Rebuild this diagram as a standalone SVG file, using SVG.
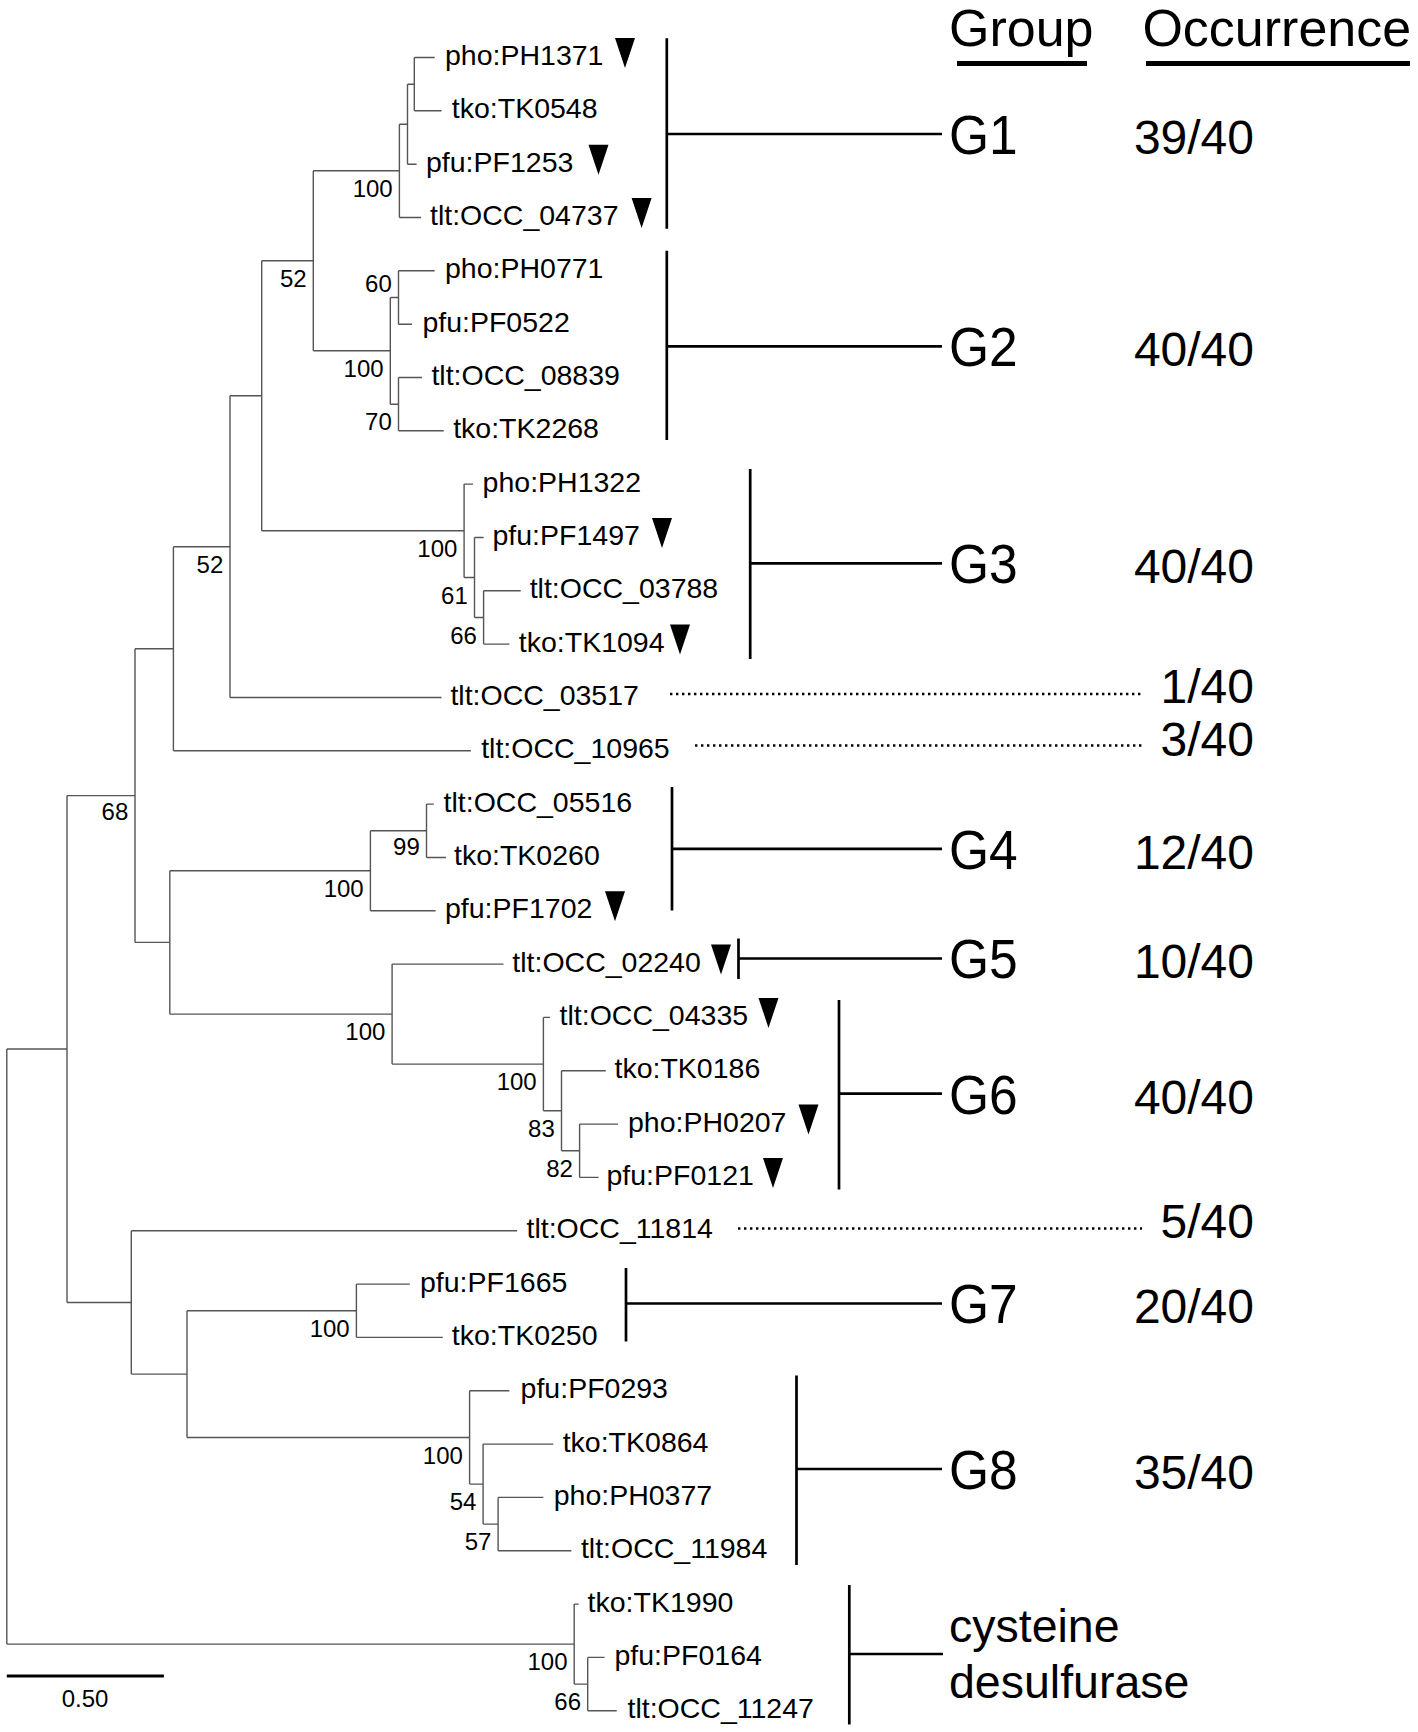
<svg xmlns="http://www.w3.org/2000/svg" xmlns:xlink="http://www.w3.org/1999/xlink" width="1418" height="1732" viewBox="0 0 1418 1732">
<style>
text{font-family:"Liberation Sans",Arial,sans-serif;fill:#000}
.lf{font-size:28.5px}
.bs{font-size:24px;text-anchor:end}
.gl{font-size:56px}
.oc{font-size:48px;text-anchor:end}
.hd{font-size:52px}
.cd{font-size:46.5px}
.sc{font-size:24px;text-anchor:middle}
.br{stroke:#555;stroke-width:1.4;fill:none}
.bk{stroke:#000;stroke-width:2.7;fill:none}
.ul{stroke:#000;stroke-width:5;fill:none}
.dot{stroke:#000;stroke-width:2.6;stroke-dasharray:2.4 3.6;fill:none}
</style>
<defs>
<path id="tri" d="M0,0 H20 L10,30 Z" fill="#000"/>
</defs>
<rect width="1418" height="1732" fill="#fff"/>

<g id="connectors">
<path class="br" d="M6.8,1049 V1644.1 M6.8,1049 H67 M6.8,1644.1 H574.2"/>
<path class="br" d="M67,795.6 V1302.5 M67,795.6 H135 M67,1302.5 H131.3"/>
<path class="br" d="M135,648.8 V942.4 M135,648.8 H173.4 M135,942.4 H169.8"/>
<path class="br" d="M173.4,546.7 V750.8 M173.4,546.7 H230 M173.4,750.8 H470.9"/>
<path class="br" d="M230,395.8 V697.5 M230,395.8 H261.7 M230,697.5 H441.5"/>
<path class="br" d="M261.7,260.8 V530.8 M261.7,260.8 H313.3 M261.7,530.8 H464.1"/>
<path class="br" d="M313.3,170.8 V350.8 M313.3,170.8 H399.4 M313.3,350.8 H390.3"/>
<path class="br" d="M399.4,124.2 V217.5 M399.4,124.2 H407.5 M399.4,217.5 H421"/>
<path class="br" d="M407.5,84.2 V164.2 M407.5,84.2 H414.3 M407.5,164.2 H416.6"/>
<path class="br" d="M414.3,57.5 V110.8 M414.3,57.5 H434.7 M414.3,110.8 H441.5"/>
<path class="br" d="M390.3,297.5 V404.2 M390.3,297.5 H398.5 M390.3,404.2 H398.5"/>
<path class="br" d="M398.5,270.8 V324.2 M398.5,270.8 H434.7 M398.5,324.2 H412"/>
<path class="br" d="M398.5,377.5 V430.8 M398.5,377.5 H422 M398.5,430.8 H443.7"/>
<path class="br" d="M464.1,484.1 V577.5 M464.1,484.1 H473 M464.1,577.5 H474.5"/>
<path class="br" d="M474.5,537.5 V617.5 M474.5,537.5 H483.6 M474.5,617.5 H483.6"/>
<path class="br" d="M483.6,590.8 V644.1 M483.6,590.8 H520.7 M483.6,644.1 H509.4"/>
<path class="br" d="M169.8,870.8 V1014.1 M169.8,870.8 H370.4 M169.8,1014.1 H392.1"/>
<path class="br" d="M370.4,830.8 V910.8 M370.4,830.8 H426.5 M370.4,910.8 H435.6"/>
<path class="br" d="M426.5,804.1 V857.5 M426.5,804.1 H433.8 M426.5,857.5 H446"/>
<path class="br" d="M392.1,964.1 V1064.1 M392.1,964.1 H503.5 M392.1,1064.1 H543.4"/>
<path class="br" d="M543.4,1017.4 V1110.8 M543.4,1017.4 H550 M543.4,1110.8 H561.5"/>
<path class="br" d="M561.5,1070.8 V1150.8 M561.5,1070.8 H605.8 M561.5,1150.8 H579.6"/>
<path class="br" d="M579.6,1124.1 V1177.4 M579.6,1124.1 H618 M579.6,1177.4 H598.6"/>
<path class="br" d="M131.3,1230.8 V1374.1 M131.3,1230.8 H517.1 M131.3,1374.1 H187"/>
<path class="br" d="M187,1310.8 V1437.5 M187,1310.8 H356.4 M187,1437.5 H469.6"/>
<path class="br" d="M356.4,1284.1 V1337.4 M356.4,1284.1 H409.8 M356.4,1337.4 H442.8"/>
<path class="br" d="M469.6,1390.8 V1484.1 M469.6,1390.8 H509.4 M469.6,1484.1 H483.1"/>
<path class="br" d="M483.1,1444.1 V1524.1 M483.1,1444.1 H553.3 M483.1,1524.1 H498.1"/>
<path class="br" d="M498.1,1497.4 V1550.8 M498.1,1497.4 H543.4 M498.1,1550.8 H571.4"/>
<path class="br" d="M574.2,1604.1 V1684.1 M574.2,1604.1 H578.7 M574.2,1684.1 H587.7"/>
<path class="br" d="M587.7,1657.4 V1710.8 M587.7,1657.4 H604.5 M587.7,1710.8 H616.7"/>
<path class="dot" d="M670,694 H1142"/>
<path class="dot" d="M695,745.5 H1142"/>
<path class="dot" d="M738,1228.5 H1142"/>
</g>

<g id="bootstrap">
<text class="bs" x="392.7" y="196.8">100</text>
<text class="bs" x="306.6" y="286.8">52</text>
<text class="bs" x="391.8" y="291.7">60</text>
<text class="bs" x="383.6" y="376.8">100</text>
<text class="bs" x="391.8" y="430.2">70</text>
<text class="bs" x="457.4" y="556.8">100</text>
<text class="bs" x="467.8" y="603.5">61</text>
<text class="bs" x="476.9" y="643.5">66</text>
<text class="bs" x="223.3" y="572.7">52</text>
<text class="bs" x="128.3" y="820">68</text>
<text class="bs" x="363.7" y="896.8">100</text>
<text class="bs" x="419.8" y="855">99</text>
<text class="bs" x="385.4" y="1040.1">100</text>
<text class="bs" x="536.7" y="1090.1">100</text>
<text class="bs" x="554.8" y="1136.8">83</text>
<text class="bs" x="572.9" y="1176.8">82</text>
<text class="bs" x="349.7" y="1336.8">100</text>
<text class="bs" x="462.9" y="1463.5">100</text>
<text class="bs" x="476.4" y="1510.1">54</text>
<text class="bs" x="491.4" y="1550.1">57</text>
<text class="bs" x="567.5" y="1670.1">100</text>
<text class="bs" x="581" y="1710.1">66</text>
</g>

<g id="leaves">
<g id="leaf-PH1371"><text class="lf" x="445" y="65">pho:PH1371</text><use xlink:href="#tri" x="615" y="38"/></g>
<g id="leaf-TK0548"><text class="lf" x="451.8" y="118.3">tko:TK0548</text></g>
<g id="leaf-PF1253"><text class="lf" x="426" y="171.7">pfu:PF1253</text><use xlink:href="#tri" x="588.5" y="144.7"/></g>
<g id="leaf-OCC_04737"><text class="lf" x="430" y="225">tlt:OCC_04737</text><use xlink:href="#tri" x="631.6" y="198"/></g>
<g id="leaf-PH0771"><text class="lf" x="445" y="278.3">pho:PH0771</text></g>
<g id="leaf-PF0522"><text class="lf" x="422.4" y="331.7">pfu:PF0522</text></g>
<g id="leaf-OCC_08839"><text class="lf" x="431.4" y="385">tlt:OCC_08839</text></g>
<g id="leaf-TK2268"><text class="lf" x="453.2" y="438.3">tko:TK2268</text></g>
<g id="leaf-PH1322"><text class="lf" x="482.6" y="491.6">pho:PH1322</text></g>
<g id="leaf-PF1497"><text class="lf" x="492.5" y="545">pfu:PF1497</text><use xlink:href="#tri" x="652" y="518"/></g>
<g id="leaf-OCC_03788"><text class="lf" x="529.7" y="598.3">tlt:OCC_03788</text></g>
<g id="leaf-TK1094"><text class="lf" x="518.8" y="651.6">tko:TK1094</text><use xlink:href="#tri" x="670" y="624.6"/></g>
<g id="leaf-OCC_03517"><text class="lf" x="450.4" y="705">tlt:OCC_03517</text></g>
<g id="leaf-OCC_10965"><text class="lf" x="481.2" y="758.3">tlt:OCC_10965</text></g>
<g id="leaf-OCC_05516"><text class="lf" x="443.6" y="811.6">tlt:OCC_05516</text></g>
<g id="leaf-TK0260"><text class="lf" x="454" y="865">tko:TK0260</text></g>
<g id="leaf-PF1702"><text class="lf" x="445" y="918.3">pfu:PF1702</text><use xlink:href="#tri" x="605" y="891.3"/></g>
<g id="leaf-OCC_02240"><text class="lf" x="512.3" y="971.6">tlt:OCC_02240</text><use xlink:href="#tri" x="711" y="944.6"/></g>
<g id="leaf-OCC_04335"><text class="lf" x="559.6" y="1024.9">tlt:OCC_04335</text><use xlink:href="#tri" x="758.5" y="997.9"/></g>
<g id="leaf-TK0186"><text class="lf" x="614.5" y="1078.3">tko:TK0186</text></g>
<g id="leaf-PH0207"><text class="lf" x="628" y="1131.6">pho:PH0207</text><use xlink:href="#tri" x="798.5" y="1104.6"/></g>
<g id="leaf-PF0121"><text class="lf" x="606.5" y="1184.9">pfu:PF0121</text><use xlink:href="#tri" x="763" y="1157.9"/></g>
<g id="leaf-OCC_11814"><text class="lf" x="526.5" y="1238.3">tlt:OCC_11814</text></g>
<g id="leaf-PF1665"><text class="lf" x="420" y="1291.6">pfu:PF1665</text></g>
<g id="leaf-TK0250"><text class="lf" x="451.8" y="1344.9">tko:TK0250</text></g>
<g id="leaf-PF0293"><text class="lf" x="520.6" y="1398.3">pfu:PF0293</text></g>
<g id="leaf-TK0864"><text class="lf" x="562.7" y="1451.6">tko:TK0864</text></g>
<g id="leaf-PH0377"><text class="lf" x="553.7" y="1504.9">pho:PH0377</text></g>
<g id="leaf-OCC_11984"><text class="lf" x="580.9" y="1558.3">tlt:OCC_11984</text></g>
<g id="leaf-TK1990"><text class="lf" x="587.6" y="1611.6">tko:TK1990</text></g>
<g id="leaf-PF0164"><text class="lf" x="614.5" y="1664.9">pfu:PF0164</text></g>
<g id="leaf-OCC_11247"><text class="lf" x="627.5" y="1718.3">tlt:OCC_11247</text></g>
</g>

<g id="header">
<text class="hd" x="949" y="45.5">Group</text>
<path class="ul" d="M957,63.5 H1087"/>
<text class="hd" x="1142.4" y="45.5">Occurrence</text>
<path class="ul" d="M1146,63.5 H1410"/>
</g>

<g id="group-G1">
<path class="bk" d="M666.8,38.3 V228.8 M666.8,134 H942"/>
<text class="gl" transform="translate(949,154) scale(0.92,1)">G1</text>
<text class="oc" x="1254" y="154">39/40</text>
</g>
<g id="group-G2">
<path class="bk" d="M666.8,250.7 V440 M666.8,346.3 H942"/>
<text class="gl" transform="translate(949,366) scale(0.92,1)">G2</text>
<text class="oc" x="1254" y="366">40/40</text>
</g>
<g id="group-G3">
<path class="bk" d="M750.2,469 V659 M750.2,563.3 H942"/>
<text class="gl" transform="translate(949,583) scale(0.92,1)">G3</text>
<text class="oc" x="1254" y="583">40/40</text>
</g>
<g id="occ-OCC_03517">
<text class="oc" x="1254" y="703">1/40</text>
</g>
<g id="occ-OCC_10965">
<text class="oc" x="1254" y="756">3/40</text>
</g>
<g id="group-G4">
<path class="bk" d="M672,787 V910.5 M672,848.8 H942"/>
<text class="gl" transform="translate(949,868.5) scale(0.92,1)">G4</text>
<text class="oc" x="1254" y="868.5">12/40</text>
</g>
<g id="group-G5">
<path class="bk" d="M738.5,938.5 V979 M738.5,958.5 H942"/>
<text class="gl" transform="translate(949,978) scale(0.92,1)">G5</text>
<text class="oc" x="1254" y="978">10/40</text>
</g>
<g id="group-G6">
<path class="bk" d="M839,1000 V1189.4 M839,1093.7 H942"/>
<text class="gl" transform="translate(949,1113.5) scale(0.92,1)">G6</text>
<text class="oc" x="1254" y="1113.5">40/40</text>
</g>
<g id="occ-OCC_11814">
<text class="oc" x="1254" y="1237.5">5/40</text>
</g>
<g id="group-G7">
<path class="bk" d="M626,1268 V1341.5 M626,1303.5 H942"/>
<text class="gl" transform="translate(949,1323) scale(0.92,1)">G7</text>
<text class="oc" x="1254" y="1323">20/40</text>
</g>
<g id="group-G8">
<path class="bk" d="M796.5,1375.5 V1565 M796.5,1469 H942"/>
<text class="gl" transform="translate(949,1488.5) scale(0.92,1)">G8</text>
<text class="oc" x="1254" y="1488.5">35/40</text>
</g>
<g id="group-cysteine-desulfurase">
<path class="bk" d="M849.3,1585 V1724.5 M849.3,1654 H943"/>
<text class="cd" x="949" y="1642">cysteine</text>
<text class="cd" x="949" y="1697.5">desulfurase</text>
</g>

<g id="scale-bar">
<path d="M6.8,1676 H163.9" stroke="#000" stroke-width="3" fill="none"/>
<text class="sc" x="85" y="1707">0.50</text>
</g>
</svg>
